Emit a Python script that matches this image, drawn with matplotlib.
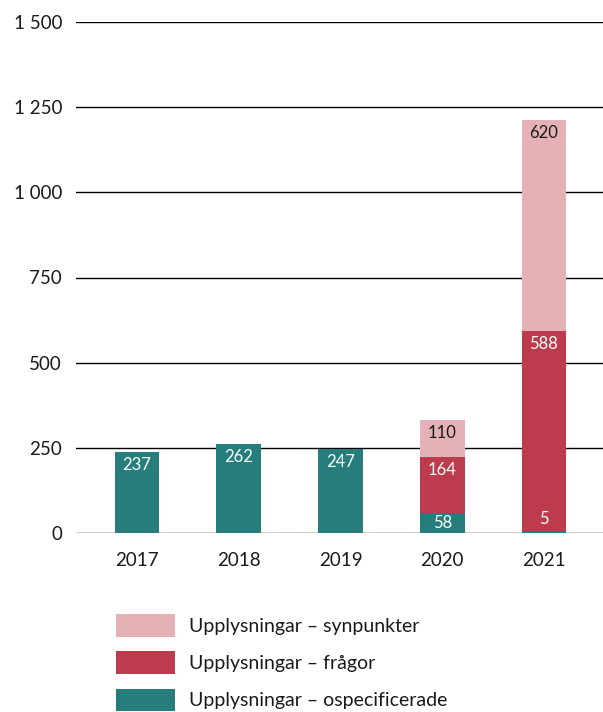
import matplotlib
matplotlib.use('Agg')
import matplotlib.pyplot as plt
from matplotlib.ticker import FuncFormatter
import numpy as np

# Data
years = ['2017', '2018', '2019', '2020', '2021']
ospecificerade = [237, 262, 247, 58, 5]
fragor = [0, 0, 0, 164, 588]
synpunkter = [0, 0, 0, 110, 620]

teal = '#267d7c'
red = '#bc3b4c'
pink = '#e4b1b6'

plt.rcParams['font.family'] = ['Lato', 'DejaVu Sans']

fig = plt.figure(figsize=(6.03, 7.12), dpi=100)
ax = fig.add_axes([76 / 603, (712 - 533) / 712, 527 / 603, 511 / 712])

x = np.arange(len(years))
w = 0.44
b1 = ax.bar(x, ospecificerade, w, color=teal, zorder=3,
            label='Upplysningar – ospecificerade')
b2 = ax.bar(x, fragor, w, bottom=ospecificerade, color=red, zorder=3,
            label='Upplysningar – frågor')
bottom3 = np.array(ospecificerade) + np.array(fragor)
b3 = ax.bar(x, synpunkter, w, bottom=bottom3, color=pink, zorder=3,
            label='Upplysningar – synpunkter')

# value labels near the top of each segment
def add_labels(vals, bottoms, color):
    for xi, v, b in zip(x, vals, bottoms):
        if v == 0:
            continue
        y = max(b + v - 38, b + 30)
        if v == 5:
            y = b + 40
        ax.text(xi, y, str(v), ha='center', va='center', fontsize=12,
                color=color, zorder=4)

add_labels(ospecificerade, [0] * 5, 'white')
add_labels(fragor, ospecificerade, 'white')
add_labels(synpunkter, bottom3, '#1a1a1a')

ax.set_ylim(0, 1500)
ax.set_xlim(-0.6, 4.58)
ax.set_yticks([0, 250, 500, 750, 1000, 1250, 1500])
ax.yaxis.set_major_formatter(FuncFormatter(lambda v, p: f'{int(v):,}'.replace(',', ' ')))
ax.set_xticks(x)
ax.set_xticklabels(years)
ax.grid(axis='y', color='black', linewidth=1.0, zorder=0)
for s in ax.spines.values():
    s.set_visible(False)
ax.tick_params(axis='both', length=0, labelsize=13.5, colors='#1a1a1a')
ax.tick_params(axis='y', pad=10)
ax.tick_params(axis='x', pad=14)

fig.legend(handles=[b3, b2, b1], loc='upper left',
           bbox_to_anchor=(116 / 603, 1 - 614 / 712), frameon=False,
           fontsize=14, handlelength=3.03, handleheight=1.42,
           handletextpad=0.72, labelspacing=0.75, borderpad=0,
           borderaxespad=0, labelcolor='#1a1a1a')

fig.savefig('out.png', dpi=100)
